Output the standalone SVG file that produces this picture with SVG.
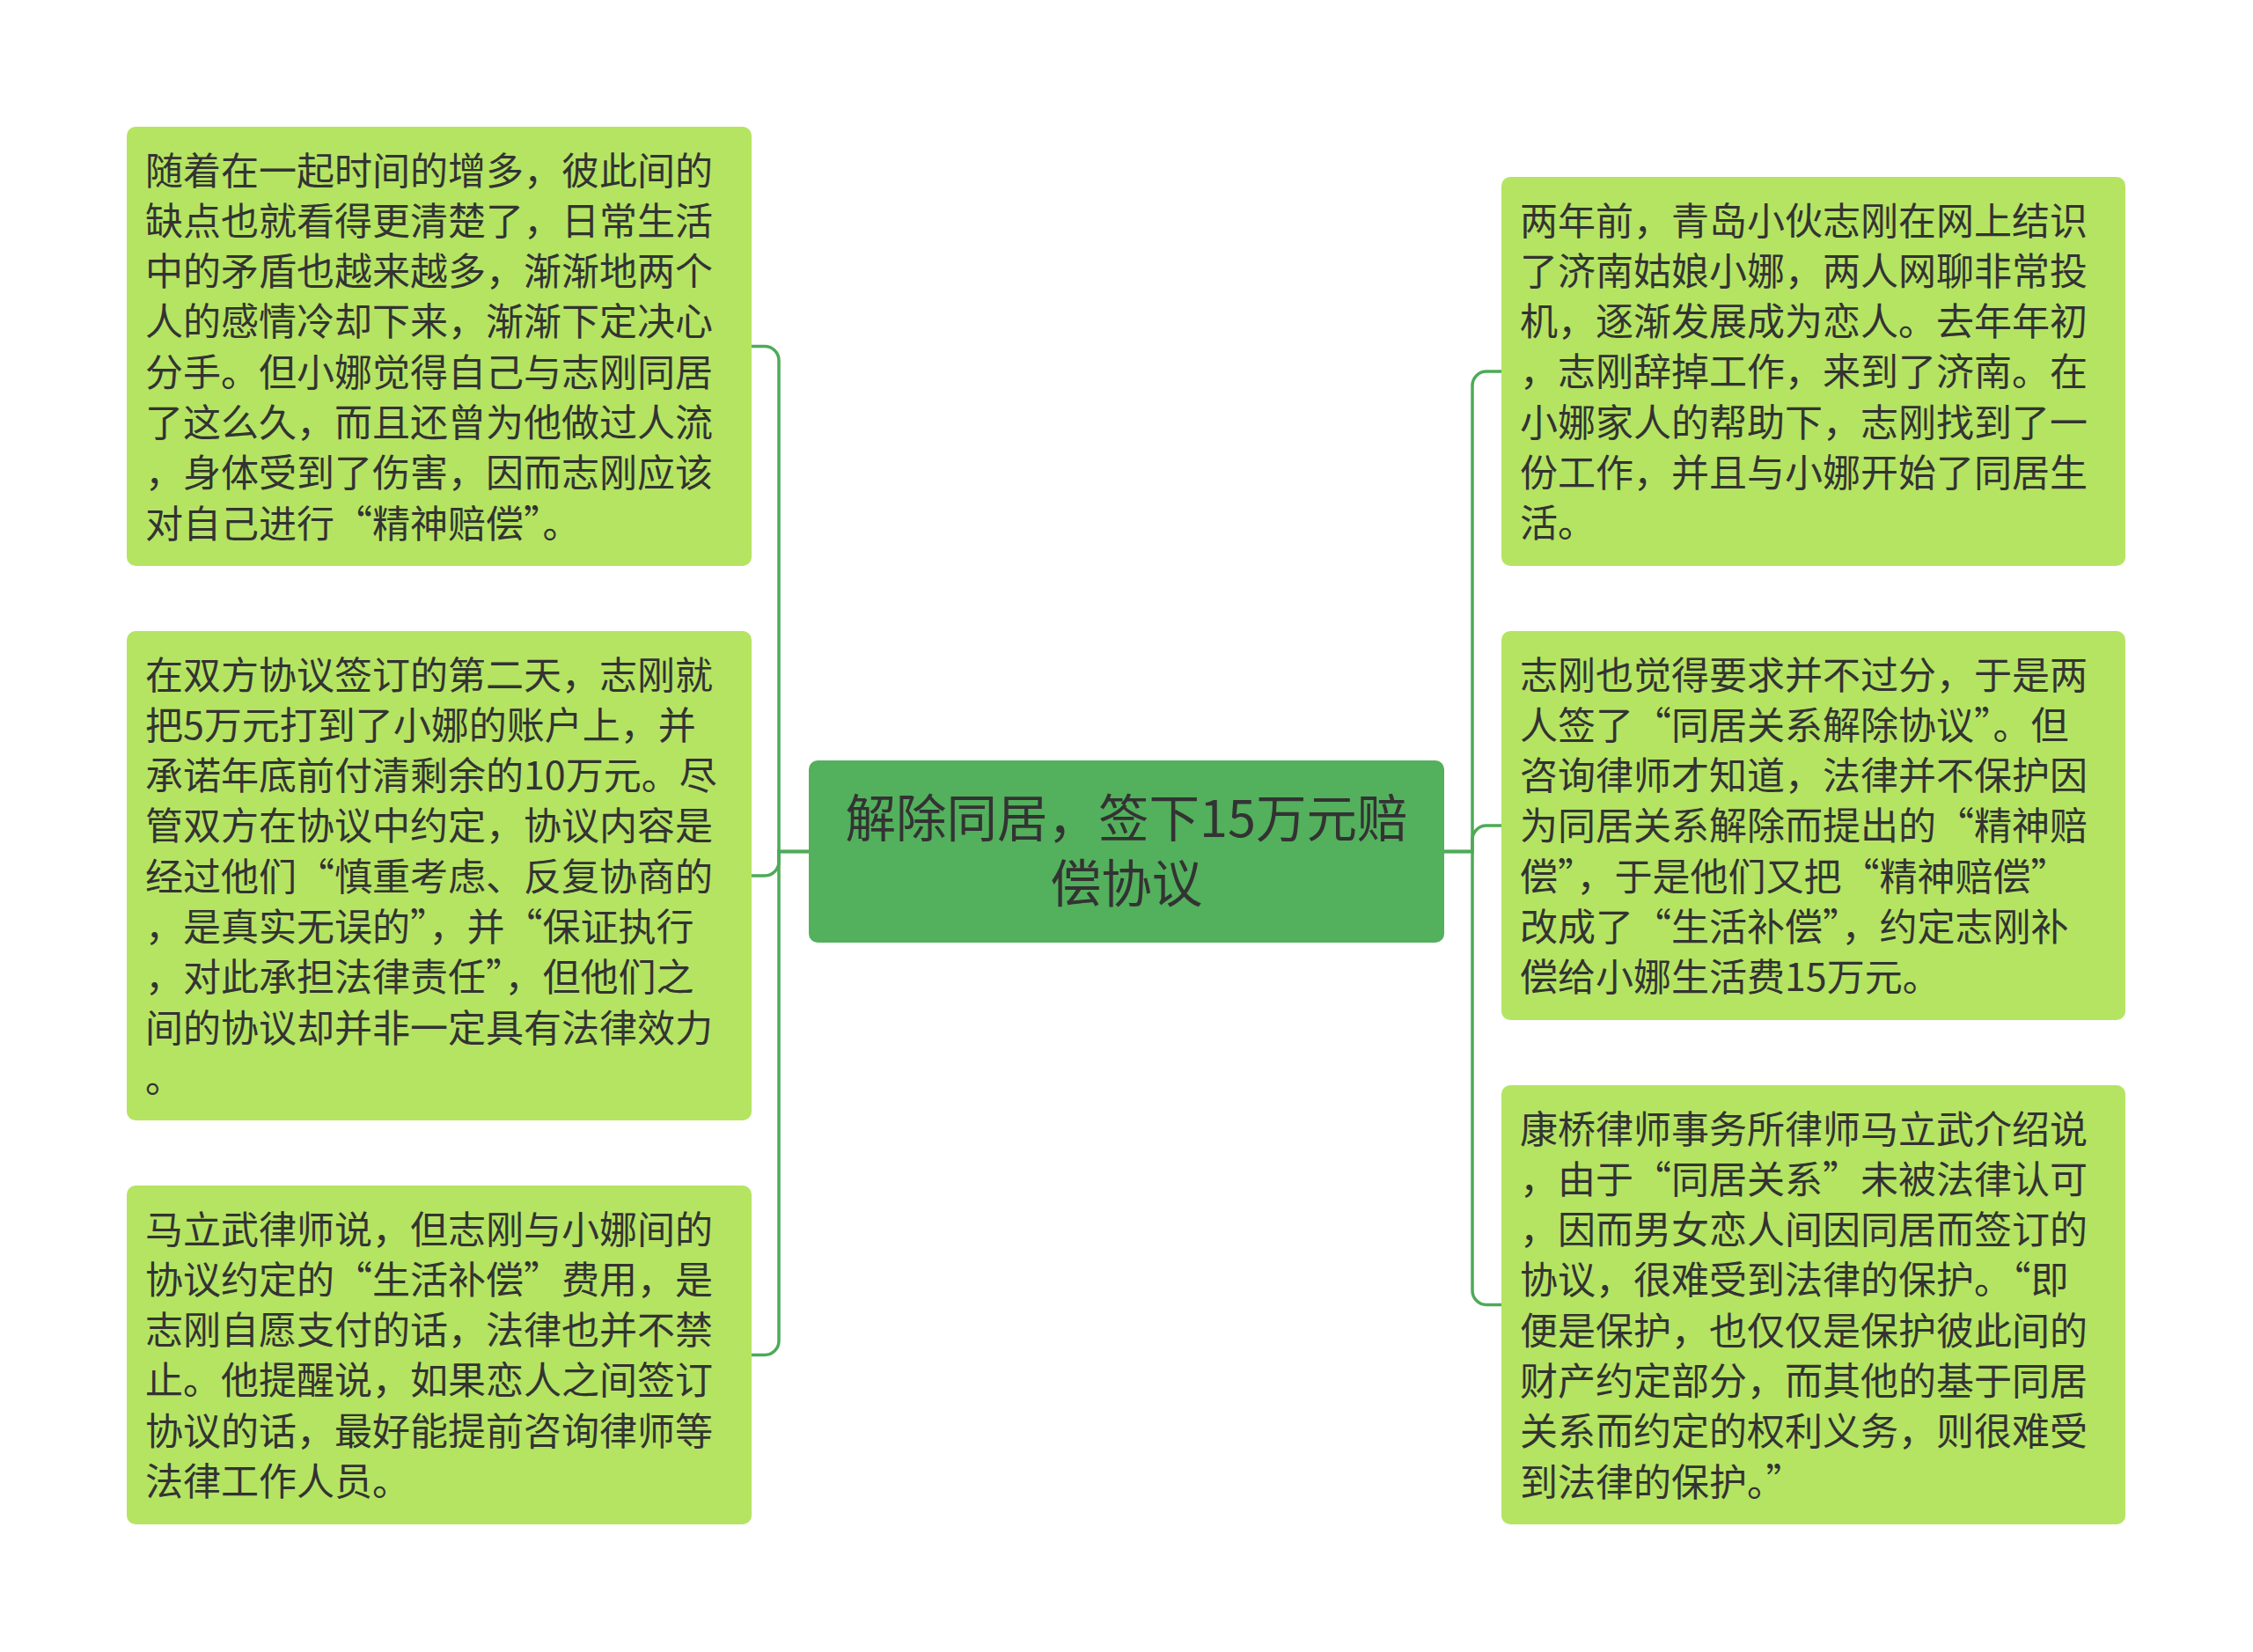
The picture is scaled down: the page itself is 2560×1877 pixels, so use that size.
<svg xmlns="http://www.w3.org/2000/svg" width="2560" height="1877" viewBox="0 0 2560 1877">
<style>
.leaf{fill:#b5e462;}
.root{fill:#53b05c;}
.t{font-family:"Noto Sans CJK SC","Noto Sans",sans-serif;font-size:43px;fill:#333333;}
.rt{font-family:"Noto Sans CJK SC","Noto Sans",sans-serif;font-size:57.5px;fill:#333333;text-anchor:middle;}
.q{font-feature-settings:"fwid" 1;}
.c{fill:none;stroke:#4eaa57;stroke-width:3.5;}
</style>
<rect width="2560" height="1877" fill="#ffffff"/>
<g id="connectors">
<path class="c" d="M919,967.5 H885 V409.5 A16,16 0 0 0 869,393.5 H854"/>
<path class="c" d="M919,967.5 H885 V979 A16,16 0 0 1 869,995 H854"/>
<path class="c" d="M919,967.5 H885 V1523.5 A16,16 0 0 1 869,1539.5 H854"/>
<path class="c" d="M1641,967.5 H1673 V438 A16,16 0 0 1 1689,422 H1706"/>
<path class="c" d="M1641,967.5 H1673 V954 A16,16 0 0 1 1689,938 H1706"/>
<path class="c" d="M1641,967.5 H1673 V1466.5 A16,16 0 0 0 1689,1482.5 H1706"/>
</g>
<g id="root">
<rect class="root" x="919" y="864" width="722" height="207" rx="10"/>
<text class="rt"><tspan x="1280" y="951">解除同居，签下15万元赔</tspan><tspan x="1280" y="1024.5">偿协议</tspan></text>
</g>
<g id="left1">
<rect class="leaf" x="144" y="144" width="710" height="499" rx="10"/>
<text class="t">
<tspan x="165" y="209.5">随着在一起时间的增多，彼此间的</tspan>
<tspan x="165" y="266.8">缺点也就看得更清楚了，日常生活</tspan>
<tspan x="165" y="324.1">中的矛盾也越来越多，渐渐地两个</tspan>
<tspan x="165" y="381.4">人的感情冷却下来，渐渐下定决心</tspan>
<tspan x="165" y="438.7">分手。但小娜觉得自己与志刚同居</tspan>
<tspan x="165" y="496">了这么久，而且还曾为他做过人流</tspan>
<tspan x="165" y="553.3">，身体受到了伤害，因而志刚应该</tspan>
<tspan x="165" y="610.6">对自己进行<tspan class="q">“</tspan>精神赔偿<tspan class="q">”</tspan>。</tspan>
</text>
</g>
<g id="left2">
<rect class="leaf" x="144" y="717" width="710" height="556" rx="10"/>
<text class="t">
<tspan x="165" y="782.5">在双方协议签订的第二天，志刚就</tspan>
<tspan x="165" y="839.8">把5万元打到了小娜的账户上，并</tspan>
<tspan x="165" y="897.1">承诺年底前付清剩余的10万元。尽</tspan>
<tspan x="165" y="954.4">管双方在协议中约定，协议内容是</tspan>
<tspan x="165" y="1011.7">经过他们<tspan class="q">“</tspan>慎重考虑、反复协商的</tspan>
<tspan x="165" y="1069">，是真实无误的<tspan class="q">”</tspan>，并<tspan class="q">“</tspan>保证执行</tspan>
<tspan x="165" y="1126.3">，对此承担法律责任<tspan class="q">”</tspan>，但他们之</tspan>
<tspan x="165" y="1183.6">间的协议却并非一定具有法律效力</tspan>
<tspan x="165" y="1240.9">。</tspan>
</text>
</g>
<g id="left3">
<rect class="leaf" x="144" y="1347" width="710" height="385" rx="10"/>
<text class="t">
<tspan x="165" y="1412.5">马立武律师说，但志刚与小娜间的</tspan>
<tspan x="165" y="1469.8">协议约定的<tspan class="q">“</tspan>生活补偿<tspan class="q">”</tspan>费用，是</tspan>
<tspan x="165" y="1527.1">志刚自愿支付的话，法律也并不禁</tspan>
<tspan x="165" y="1584.4">止。他提醒说，如果恋人之间签订</tspan>
<tspan x="165" y="1641.7">协议的话，最好能提前咨询律师等</tspan>
<tspan x="165" y="1699">法律工作人员。</tspan>
</text>
</g>
<g id="right1">
<rect class="leaf" x="1706" y="201" width="709" height="442" rx="10"/>
<text class="t">
<tspan x="1727" y="266.5">两年前，青岛小伙志刚在网上结识</tspan>
<tspan x="1727" y="323.8">了济南姑娘小娜，两人网聊非常投</tspan>
<tspan x="1727" y="381.1">机，逐渐发展成为恋人。去年年初</tspan>
<tspan x="1727" y="438.4">，志刚辞掉工作，来到了济南。在</tspan>
<tspan x="1727" y="495.7">小娜家人的帮助下，志刚找到了一</tspan>
<tspan x="1727" y="553">份工作，并且与小娜开始了同居生</tspan>
<tspan x="1727" y="610.3">活。</tspan>
</text>
</g>
<g id="right2">
<rect class="leaf" x="1706" y="717" width="709" height="442" rx="10"/>
<text class="t">
<tspan x="1727" y="782.5">志刚也觉得要求并不过分，于是两</tspan>
<tspan x="1727" y="839.8">人签了<tspan class="q">“</tspan>同居关系解除协议<tspan class="q">”</tspan>。但</tspan>
<tspan x="1727" y="897.1">咨询律师才知道，法律并不保护因</tspan>
<tspan x="1727" y="954.4">为同居关系解除而提出的<tspan class="q">“</tspan>精神赔</tspan>
<tspan x="1727" y="1011.7">偿<tspan class="q">”</tspan>，于是他们又把<tspan class="q">“</tspan>精神赔偿<tspan class="q">”</tspan></tspan>
<tspan x="1727" y="1069">改成了<tspan class="q">“</tspan>生活补偿<tspan class="q">”</tspan>，约定志刚补</tspan>
<tspan x="1727" y="1126.3">偿给小娜生活费15万元。</tspan>
</text>
</g>
<g id="right3">
<rect class="leaf" x="1706" y="1233" width="709" height="499" rx="10"/>
<text class="t">
<tspan x="1727" y="1298.5">康桥律师事务所律师马立武介绍说</tspan>
<tspan x="1727" y="1355.8">，由于<tspan class="q">“</tspan>同居关系<tspan class="q">”</tspan>未被法律认可</tspan>
<tspan x="1727" y="1413.1">，因而男女恋人间因同居而签订的</tspan>
<tspan x="1727" y="1470.4">协议，很难受到法律的保护。<tspan class="q">“</tspan>即</tspan>
<tspan x="1727" y="1527.7">便是保护，也仅仅是保护彼此间的</tspan>
<tspan x="1727" y="1585">财产约定部分，而其他的基于同居</tspan>
<tspan x="1727" y="1642.3">关系而约定的权利义务，则很难受</tspan>
<tspan x="1727" y="1699.6">到法律的保护。<tspan class="q">”</tspan></tspan>
</text>
</g>
</svg>
